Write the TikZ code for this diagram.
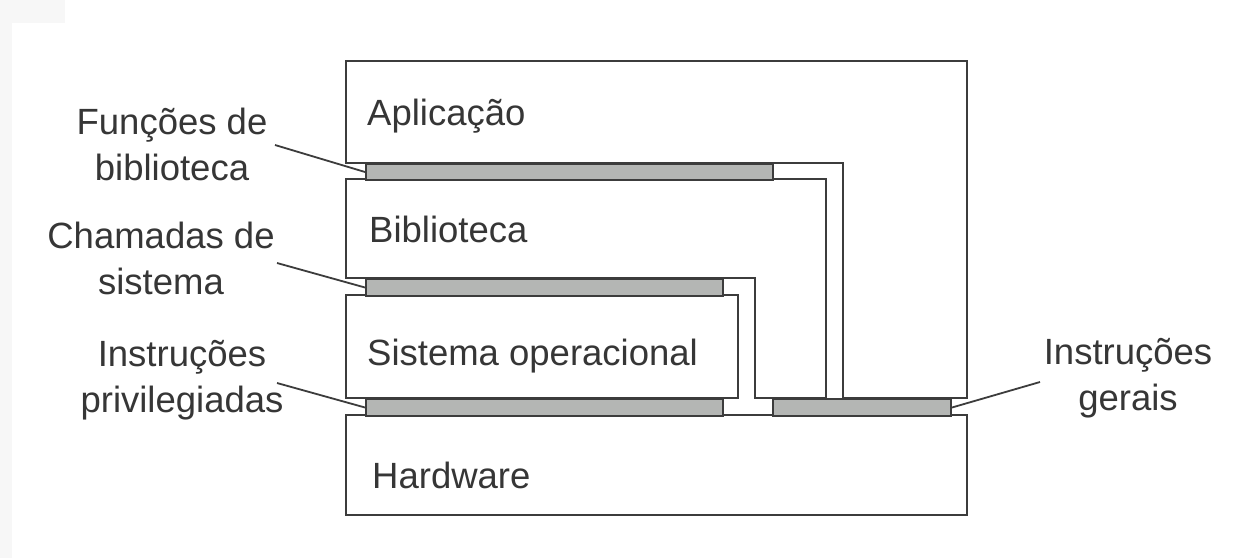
\documentclass[tikz,border=0pt]{standalone}
\usepackage{fontspec}
\setmainfont{Liberation Sans}
\definecolor{linecol}{HTML}{3C3C3C}
\definecolor{barcol}{HTML}{B4B6B4}
\definecolor{textcol}{HTML}{363636}
\definecolor{edgecol}{HTML}{F7F7F7}
\begin{document}
\begin{tikzpicture}[x=1pt,y=-1pt,
  layer/.style={draw=linecol,line width=2pt,fill=white,line join=miter},
  bar/.style={draw=linecol,line width=2pt,fill=barcol,inner sep=0pt,anchor=north west},
  lbl/.style={text=textcol,inner sep=0pt,font=\fontsize{36.5}{46}\selectfont},
  leader/.style={draw=linecol,line width=1.8pt}]
  % canvas
  \useasboundingbox (0,0) rectangle (1239,558);
  \fill[white] (0,0) rectangle (1239,558);
  \fill[edgecol] (0,0) rectangle (12,558);
  \fill[edgecol] (0,0) rectangle (65,23);

  % stacked layers
  \draw[layer] (346,61) -- (967,61) -- (967,398) -- (843,398) -- (843,163) -- (346,163) -- cycle;
  \draw[layer] (346,179) -- (826,179) -- (826,398) -- (755,398) -- (755,278) -- (346,278) -- cycle;
  \draw[layer] (346,295) rectangle (738,398);
  \draw[layer] (346,415) rectangle (967,515);

  % interfaces between the layers
  \node[bar,minimum width=407pt,minimum height=16pt] (fb) at (365,163) {};
  \node[bar,minimum width=357pt,minimum height=17pt] (sc) at (365,278) {};
  \node[bar,minimum width=357pt,minimum height=17pt] (ip) at (365,398) {};
  \node[bar,minimum width=178pt,minimum height=17pt] (ig) at (772,398) {};

  % layer names
  \node[lbl,anchor=base west] (app) at (367,125) {Aplicação};
  \node[lbl,anchor=base west] (bib) at (369,242) {Biblioteca};
  \node[lbl,anchor=base west] (so)  at (367,365) {Sistema operacional};
  \node[lbl,anchor=base west] (hw)  at (372,488) {Hardware};

  % interface names (base = baseline of the second line)
  \node[lbl,align=center,anchor=base] (lfb) at (172,180) {Funções de\\biblioteca};
  \node[lbl,align=center,anchor=base] (lsc) at (161,294) {Chamadas de\\sistema};
  \node[lbl,align=center,anchor=base] (lip) at (182,412) {Instruções\\privilegiadas};
  \node[lbl,align=center,anchor=base] (lig) at (1128,410) {Instruções\\gerais};

  % leader lines
  \coordinate (cfb) at (275,145);
  \coordinate (csc) at (277,263);
  \coordinate (cip) at (277,383);
  \coordinate (cig) at (1040,382);
  \draw[leader] (cfb) -- (fb.west);
  \draw[leader] (csc) -- (sc.west);
  \draw[leader] (cip) -- (ip.west);
  \draw[leader] (ig.east) -- (cig);
\end{tikzpicture}
\end{document}
